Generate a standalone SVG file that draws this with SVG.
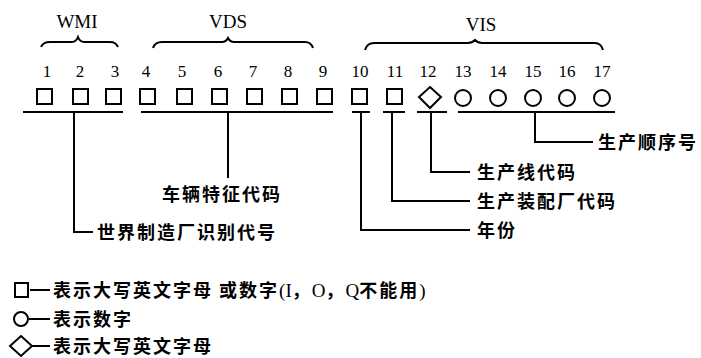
<svg xmlns="http://www.w3.org/2000/svg" width="701" height="358" viewBox="0 0 701 358">
<style>
.ln{fill:none;stroke:#000;stroke-width:2}
.sh{fill:#fff;stroke:#000;stroke-width:2}
.lat{font-family:"Liberation Serif","Times New Roman",serif;fill:#000}
.num{font-family:"Liberation Serif","Times New Roman",serif;font-size:17px;fill:#000;text-anchor:middle}
.hd{font-family:"Liberation Serif","Times New Roman",serif;font-size:19px;fill:#000;text-anchor:middle}
.cn{font-family:"Noto Sans CJK SC","Noto Sans",sans-serif;font-size:18px;font-weight:700;letter-spacing:2px;fill:#000}
</style>
<rect width="701" height="358" fill="#fff"/>
<g id="headers">
<text class="hd" x="77" y="28">WMI</text>
<text class="hd" x="228" y="28">VDS</text>
<text class="hd" x="481" y="31">VIS</text>
<path class="ln" d="M41,47 Q43,42 50,42 L72,42 Q76,42 78,37 Q80,42 84,42 L110,42 Q116,42 118,47"/>
<path class="ln" d="M153,48 Q155,42 162,42 L222,42 Q226,42 228,38 Q230,42 234,42 L305,42 Q311,42 313,48"/>
<path class="ln" d="M365,50 Q367,43 374,43 L468,43 Q472,43 475,40 Q478,43 482,43 L595,43 Q601,43 603,50"/>
</g>
<g id="numbers">
<text class="num" x="47" y="77">1</text>
<text class="num" x="80" y="77">2</text>
<text class="num" x="115" y="77">3</text>
<text class="num" x="146" y="77">4</text>
<text class="num" x="182" y="77">5</text>
<text class="num" x="218" y="77">6</text>
<text class="num" x="253" y="77">7</text>
<text class="num" x="288" y="77">8</text>
<text class="num" x="323" y="77">9</text>
<text class="num" x="360" y="77">10</text>
<text class="num" x="395" y="77">11</text>
<text class="num" x="428" y="77">12</text>
<text class="num" x="463" y="77">13</text>
<text class="num" x="498" y="77">14</text>
<text class="num" x="533" y="77">15</text>
<text class="num" x="567" y="77">16</text>
<text class="num" x="602" y="77">17</text>
</g>
<g id="positions">
<rect class="sh" x="37" y="89" width="15" height="15"/>
<rect class="sh" x="73" y="89" width="15" height="15"/>
<rect class="sh" x="106" y="89" width="15" height="15"/>
<rect class="sh" x="140" y="89" width="15" height="15"/>
<rect class="sh" x="177" y="89" width="15" height="15"/>
<rect class="sh" x="212" y="89" width="15" height="15"/>
<rect class="sh" x="247" y="89" width="15" height="15"/>
<rect class="sh" x="282" y="89" width="15" height="15"/>
<rect class="sh" x="317" y="89" width="15" height="15"/>
<rect class="sh" x="352" y="89" width="15" height="15"/>
<rect class="sh" x="387" y="89" width="15" height="15"/>
<polygon class="sh" points="430,87 441,97 430,108 419,97"/>
<circle class="sh" cx="463" cy="98" r="8"/>
<circle class="sh" cx="498" cy="98" r="8"/>
<circle class="sh" cx="533" cy="98" r="8"/>
<circle class="sh" cx="567" cy="98" r="8"/>
<circle class="sh" cx="602" cy="98" r="8"/>
</g>
<g id="connectors">
<path class="ln" d="M23,112 H123 M141,112 H333 M352,112 H370 M383,112 H405 M417,112 H447 M458,112 H615"/>
<path class="ln" d="M74,112 V232 H93"/>
<path class="ln" d="M228,112 V178"/>
<path class="ln" d="M361,112 V230 H470"/>
<path class="ln" d="M392,112 V201 H470"/>
<path class="ln" d="M431,112 V172 H470"/>
<path class="ln" d="M535,112 V142 H593"/>
</g>
<g id="label-wmi"><text class="cn" x="97" y="239">世界制造厂识别代号</text></g>
<g id="label-vds"><text class="cn" x="162" y="201">车辆特征代码</text></g>
<g id="label-year"><text class="cn" x="477" y="237">年份</text></g>
<g id="label-plant"><text class="cn" x="477" y="208">生产装配厂代码</text></g>
<g id="label-line"><text class="cn" x="477" y="179">生产线代码</text></g>
<g id="label-seq"><text class="cn" x="598" y="149">生产顺序号</text></g>
<g id="legend">
<rect class="sh" x="15" y="283" width="13" height="14"/>
<line class="ln" x1="30" y1="290" x2="50" y2="290"/>
<text class="cn" x="53" y="297">表示大写英文字母 或数字<tspan class="lat" font-weight="400" font-size="19px" letter-spacing="0">(I</tspan>，<tspan class="lat" font-weight="400" font-size="19px" letter-spacing="0">O</tspan>，<tspan class="lat" font-weight="400" font-size="19px" letter-spacing="0">Q</tspan>不能用<tspan class="lat" font-weight="400" font-size="19px" letter-spacing="0">)</tspan></text>
<circle class="sh" cx="21" cy="319" r="7"/>
<line class="ln" x1="29" y1="319" x2="50" y2="319"/>
<text class="cn" x="53" y="326">表示数字</text>
<polygon class="sh" points="21,336 32,346 21,356 10,346"/>
<line class="ln" x1="32" y1="346" x2="50" y2="346"/>
<text class="cn" x="53" y="353">表示大写英文字母</text>
</g>
</svg>
